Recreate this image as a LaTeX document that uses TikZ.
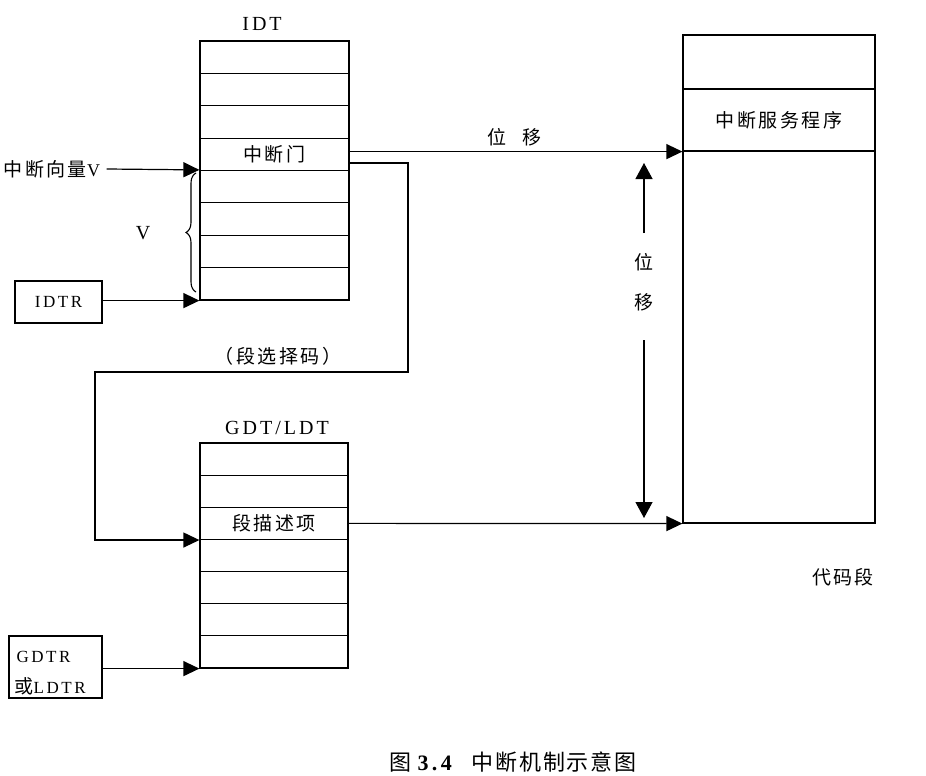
\documentclass[tikz,border=0pt]{standalone}
\usepackage{fontspec}
\setmainfont{Liberation Serif}[LetterSpace=15]
\newfontfamily\cjk{Noto Sans CJK SC}[LetterSpace=13]
\newfontfamily\cjkcap{Noto Sans CJK SC}[LetterSpace=8]
\usetikzlibrary{arrows.meta,decorations.pathreplacing}
\begin{document}
\begin{tikzpicture}[x=1pt,y=-1pt,line width=1.2pt,
  tri/.style={-{Triangle[length=16pt,width=15pt]}},
  cj/.style={font=\fontsize{19}{22}\selectfont\cjk},
  lt/.style={font=\fontsize{20}{22}\selectfont},
  rt/.style={font=\fontsize{17}{20}\selectfont},
  idtrow/.style={draw,minimum width=149pt,minimum height=32.375pt,inner sep=0pt,cj},
  gdtrow/.style={draw,minimum width=148pt,minimum height=32.14pt,inner sep=0pt,cj},
  codebox/.style={draw,minimum width=192pt,inner sep=0pt,cj},
  regbox/.style={draw,inner sep=0pt}]
\useasboundingbox (0,0) rectangle (926,776);
% IDT
\node[lt] (idtlbl) at (262,24) {IDT};
\node[idtrow] (idt1) at (274.5,57.19) {};
\node[idtrow] (idt2) at (274.5,89.56) {};
\node[idtrow] (idt3) at (274.5,121.94) {};
\node[idtrow] (idt4) at (274.5,154.31) {中断门};
\node[idtrow] (idt5) at (274.5,186.69) {};
\node[idtrow] (idt6) at (274.5,219.06) {};
\node[idtrow] (idt7) at (274.5,251.44) {};
\node[idtrow] (idt8) at (274.5,283.81) {};
% vector label
\node[cj,anchor=west,inner sep=0pt] (vec) at (3,169) {中断向量{\fontsize{18}{20}\selectfont\rmfamily V}};
\draw[tri] ([xshift=6pt]vec.east) -- (idt5.north west);
% brace and V
\draw[line width=1.1pt,decorate,decoration={brace,amplitude=10pt}] (196,292) -- (196,173);
\node[lt] (vlbl) at (143,233) {V};
% IDTR
\node[regbox,rt,minimum width=87pt,minimum height=42pt] (idtr) at (58.5,302) {IDTR};
\draw[tri] (idtr.east |- idt8.south west) -- (idt8.south west);
% code segment
\node[codebox,minimum height=54pt] (code1) at (779,62) {};
\node[codebox,minimum height=62pt] (code2) at (779,120) {中断服务程序};
\node[codebox,minimum height=372pt] (code3) at (779,337) {};
\node[cj] (codelbl) at (843,577) {代码段};
% offset arrow from IDT gate
\draw[tri] (idt4.east |- code2.south west) -- (code2.south west);
\node[cj] (off1) at (514,137) {位\hspace{16pt}移};
% selector path
\coordinate (s0) at (349,163);
\coordinate (s1) at (408,163);
\coordinate (s2) at (408,372);
\coordinate (s3) at (95,372);
% GDT
\node[lt] (gdtlbl) at (277,428) {GDT/LDT};
\node[gdtrow] (gdt1) at (274,459.07) {};
\node[gdtrow] (gdt2) at (274,491.21) {};
\node[gdtrow] (gdt3) at (274,523.36) {段描述项};
\node[gdtrow] (gdt4) at (274,555.5) {};
\node[gdtrow] (gdt5) at (274,587.64) {};
\node[gdtrow] (gdt6) at (274,619.79) {};
\node[gdtrow] (gdt7) at (274,651.93) {};
\draw[tri] (s0) -- (s1) -- (s2) -- (s3) |- (gdt3.south west);
\node[cj] (sel) at (278,356) {（段选择码）};
% descriptor to code
\draw[tri] (gdt3.east) -- (code3.south west);
% GDTR
\node[regbox,minimum width=93pt,minimum height=62pt] (gdtr) at (55.5,667) {};
\node[rt,anchor=west,inner sep=0pt] (gdtrt1) at (16,657) {GDTR};
\node[anchor=west,inner sep=0pt] (gdtrt2) at (14,686) {\fontsize{19}{20}\selectfont\cjk 或\fontsize{17}{20}\selectfont\rmfamily LDTR};
\draw[tri] (gdtr.east |- gdt7.south west) -- (gdt7.south west);
% vertical offset
\node[cj] (vw1) at (644,262) {位};
\node[cj] (vw2) at (644,302) {移};
\coordinate (upS) at (644,233);
\coordinate (upE) at (644,163);
\coordinate (dnS) at (644,340);
\coordinate (dnE) at (644,518);
\draw[-{Triangle[length=16pt,width=17pt]}] (upS) -- (upE);
\draw[-{Triangle[length=16pt,width=17pt]}] (dnS) -- (dnE);
% caption
\node (cap) at (513,762) {\fontsize{22}{24}\selectfont\cjkcap 图\hspace{6pt}{\rmfamily\bfseries 3.4}\hspace{20pt}中断机制示意图};
\end{tikzpicture}
\end{document}
